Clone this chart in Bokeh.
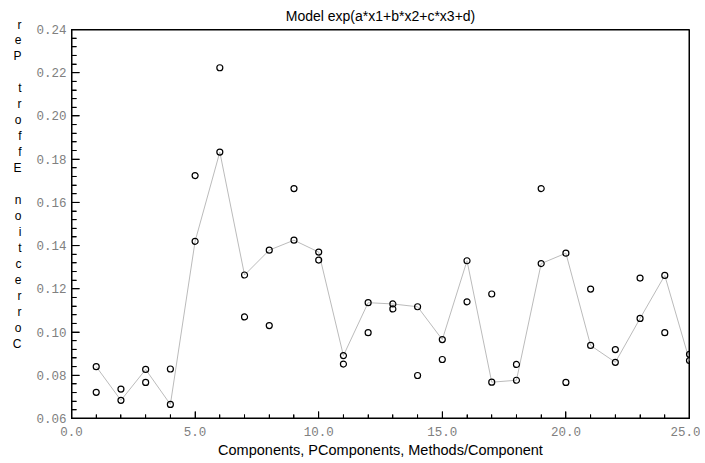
from bokeh.plotting import figure
from bokeh.models import Range1d, NumeralTickFormatter, SingleIntervalTicker
from bokeh.embed import file_html
from bokeh.resources import INLINE

components = list(range(1, 26))
model_values = [0.0840, 0.0684, 0.0827, 0.0665, 0.1420, 0.1833, 0.1264, 0.1379, 0.1425, 0.1370,
                0.0891, 0.1136, 0.1130, 0.1117, 0.0965, 0.1330, 0.0768, 0.0777, 0.1317, 0.1365,
                0.0938, 0.0860, 0.1063, 0.1262, 0.0868]
observed_values = [0.0721, 0.0736, 0.0767, 0.0829, 0.1724, 0.2223, 0.1070, 0.1030, 0.1664, 0.1333,
                   0.0852, 0.0997, 0.1107, 0.0799, 0.0873, 0.1140, 0.1176, 0.0850, 0.1664, 0.0767,
                   0.1199, 0.0919, 0.1250, 0.0997, 0.0897]

title_text = "Model exp(a*x1+b*x2+c*x3+d)"
x_label = "Components, PComponents, Methods/Component"
y_label = "Correction Effort Per"

x_min, x_max = 0, 25
y_min, y_max = 0.06, 0.24
x_major = [0, 5, 10, 15, 20, 25]
x_minor = [v for v in range(1, 25) if v % 5 != 0]
y_major = [0.06, 0.08, 0.10, 0.12, 0.14, 0.16, 0.18, 0.20, 0.22, 0.24]
y_minor = [round(0.06 + 0.004 * i, 3) for i in range(1, 45) if i % 5 != 0]

frame_w, frame_h = 618, 391
p = figure(width=700, height=460, output_backend="svg", toolbar_location=None,
           x_range=Range1d(x_min, x_max), y_range=Range1d(y_min, y_max),
           min_border_left=71, min_border_right=11, min_border_top=29, min_border_bottom=40)
p.title.text = title_text
p.title.align = "center"
p.title.text_font = "Liberation Sans"
p.title.text_font_size = "14px"
p.title.text_font_style = "normal"
p.title.text_color = "black"
p.title.standoff = 11
p.grid.visible = False
p.outline_line_color = "black"

for ax in (p.xaxis[0], p.yaxis[0]):
    ax.axis_line_color = "black"
    ax.major_tick_line_color = "black"
    ax.minor_tick_line_color = "black"
    ax.major_tick_out = 0
    ax.minor_tick_out = 0
    ax.major_label_text_font = "Liberation Mono"
    ax.major_label_text_font_size = "12.5px"
    ax.major_label_text_color = "#808080"

p.xaxis.ticker = SingleIntervalTicker(interval=5, num_minor_ticks=5)
p.xaxis.formatter = NumeralTickFormatter(format="0.0")
p.xaxis.major_tick_in = 7
p.xaxis.minor_tick_in = 4
p.xaxis.major_label_standoff = 8
p.xaxis.axis_label = x_label
p.xaxis.axis_label_text_font = "Liberation Sans"
p.xaxis.axis_label_text_font_size = "14.5px"
p.xaxis.axis_label_text_font_style = "normal"
p.xaxis.axis_label_text_color = "black"
p.xaxis.axis_label_standoff = 3

p.yaxis.ticker = SingleIntervalTicker(interval=0.02, num_minor_ticks=5)
p.yaxis.formatter = NumeralTickFormatter(format="0.00")
p.yaxis.major_tick_in = 8
p.yaxis.minor_tick_in = 5
p.yaxis.major_label_standoff = 5

stacked_lines = list(reversed(y_label)) + [" "] * 5
p.yaxis.axis_label = "\n".join(stacked_lines)
p.yaxis.axis_label_orientation = "horizontal"
p.yaxis.axis_label_text_font = "Liberation Sans"
p.yaxis.axis_label_text_font_size = "12px"
p.yaxis.axis_label_text_font_style = "normal"
p.yaxis.axis_label_text_color = "black"
p.yaxis.axis_label_text_line_height = 1.14
p.yaxis.axis_label_text_align = "center"
p.yaxis.axis_label_standoff = 12

# frame box and inward ticks drawn as glyph segments (edge lines half-clipped by the frame)
dx = (x_max - x_min) / frame_w   # data units per pixel, x
dy = (y_max - y_min) / frame_h   # data units per pixel, y
p.segment(x0=[x_min, x_min, x_min, x_max], y0=[y_min, y_max, y_min, y_min],
          x1=[x_max, x_max, x_min, x_max], y1=[y_min, y_max, y_max, y_max],
          line_color="black", line_width=2)
p.segment(x0=x_major, y0=[y_min] * len(x_major), x1=x_major, y1=[y_min + 7 * dy] * len(x_major),
          line_color="black", line_width=1)
p.segment(x0=x_minor, y0=[y_min] * len(x_minor), x1=x_minor, y1=[y_min + 4 * dy] * len(x_minor),
          line_color="black", line_width=1)
p.segment(x0=[x_min] * len(y_major), y0=y_major, x1=[x_min + 8 * dx] * len(y_major), y1=y_major,
          line_color="black", line_width=1)
p.segment(x0=[x_min] * len(y_minor), y0=y_minor, x1=[x_min + 5 * dx] * len(y_minor), y1=y_minor,
          line_color="black", line_width=1)

p.line(components, model_values, line_color="#bbbbbb", line_width=1)
p.scatter(components, model_values, marker="circle", size=6, fill_color=None,
          line_color="black", line_width=1.2)
p.scatter(components, observed_values, marker="circle", size=6, fill_color=None,
          line_color="black", line_width=1.2)

open("out.html", "w").write(file_html(p, INLINE))
